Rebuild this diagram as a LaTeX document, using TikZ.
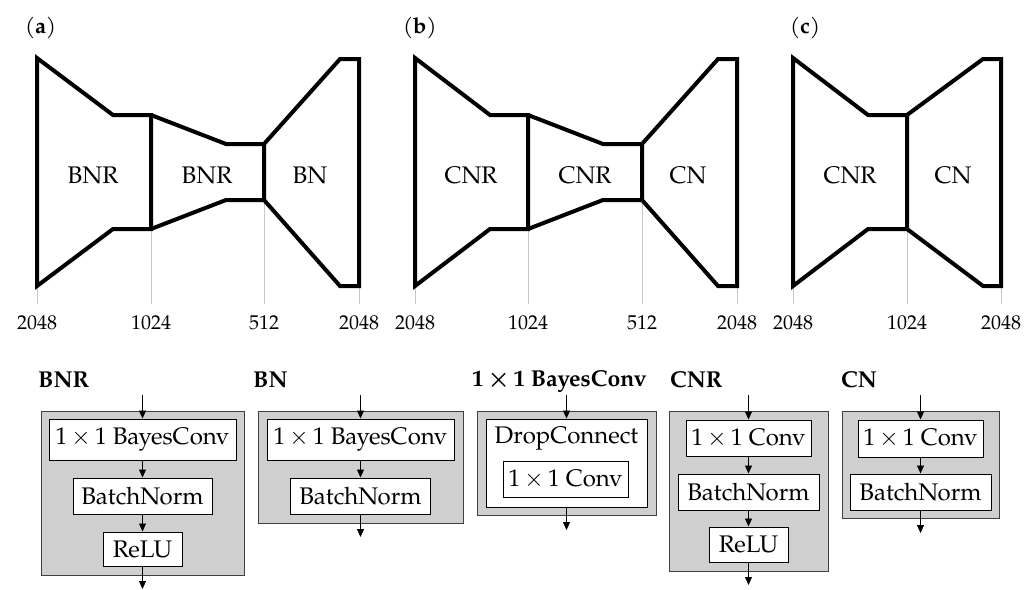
\documentclass[tikz,border=0pt]{standalone}
\usepackage{fontspec}
\setmainfont{TeX Gyre Pagella}
\usetikzlibrary{arrows.meta}
\newcommand{\oxo}{1\,$\times$\,1}
\begin{document}
\begin{tikzpicture}[x=1pt,y=-1pt,
 blk/.style={line width=4pt},
 tick/.style={draw=black!22,line width=0.8pt},
 num/.style={font=\fontsize{20}{22}\selectfont, anchor=base, inner sep=0pt},
 lbl/.style={font=\fontsize{24}{27}\selectfont},
 plab/.style={font=\fontsize{22}{25}\selectfont, anchor=base west, inner sep=0pt},
 outerbox/.style={draw=black!75,fill=black!19,line width=1pt,inner sep=0pt},
 innerbox/.style={draw=black,fill=white,line width=1pt,inner sep=0pt,font=\fontsize{24}{27}\selectfont},
 txt/.style={inner sep=0pt,font=\fontsize{24}{27}\selectfont},
 head/.style={font=\bfseries\boldmath\fontsize{23}{26}\selectfont,anchor=base west,inner sep=0pt},
 arr/.style={-{Triangle[length=8pt,width=7pt]},line width=0.8pt},
]
\useasboundingbox (0,0) rectangle (1035,589);

% ---------- panel labels
\node[plab] (la) at (25,33) {(\textbf{a})};
\node[plab] (lb) at (403,33) {(\textbf{b})};
\node[plab] (lc) at (790,33) {(\textbf{c})};

% ---------- panel (a)
\coordinate (a0) at (37,286);
\coordinate (a1) at (151,229);
\coordinate (a2) at (264,200);
\coordinate (a3) at (359,286);
\node[num] (na0) at (37,329) {2048};
\node[num] (na1) at (151,329) {1024};
\node[num] (na2) at (264,329) {512};
\node[num] (na3) at (359,329) {2048};
\draw[tick] (a0) -- (37,304);
\draw[tick] (a1) -- (151,304);
\draw[tick] (a2) -- (264,304);
\draw[tick] (a3) -- (359,304);
\draw[blk] (37,58) -- (113,115) -- (151,115) -- (a1) -- (113,229) -- (a0) -- cycle;
\draw[blk] (151,115) -- (226,144) -- (264,144) -- (a2) -- (226,200) -- (a1);
\draw[blk] (264,144) -- (340,59) -- (359,59) -- (a3) -- (340,286) -- (a2);
\node[lbl] (ta1) at (93,175) {BNR};
\node[lbl] (ta2) at (207,175) {BNR};
\node[lbl] (ta3) at (310,175) {BN};

% ---------- panel (b)
\coordinate (b0) at (415,286);
\coordinate (b1) at (528,229);
\coordinate (b2) at (642,200);
\coordinate (b3) at (737,286);
\node[num] (nb0) at (415,329) {2048};
\node[num] (nb1) at (528,329) {1024};
\node[num] (nb2) at (642,329) {512};
\node[num] (nb3) at (737,329) {2048};
\draw[tick] (b0) -- (415,304);
\draw[tick] (b1) -- (528,304);
\draw[tick] (b2) -- (642,304);
\draw[tick] (b3) -- (737,304);
\draw[blk] (415,58) -- (490,115) -- (528,115) -- (b1) -- (490,229) -- (b0) -- cycle;
\draw[blk] (528,115) -- (603,144) -- (642,144) -- (b2) -- (603,200) -- (b1);
\draw[blk] (642,144) -- (718,59) -- (737,59) -- (b3) -- (718,286) -- (b2);
\node[lbl] (tb1) at (471,175) {CNR};
\node[lbl] (tb2) at (585,175) {CNR};
\node[lbl] (tb3) at (688,175) {CN};

% ---------- panel (c)
\coordinate (c0) at (793,286);
\coordinate (c1) at (907,229);
\coordinate (c2) at (1001,286);
\node[num] (nc0) at (793,329) {2048};
\node[num] (nc1) at (907,329) {1024};
\node[num] (nc2) at (1001,329) {2048};
\draw[tick] (c0) -- (793,304);
\draw[tick] (c1) -- (907,304);
\draw[tick] (c2) -- (1001,304);
\draw[blk] (793,58) -- (868,115) -- (907,115) -- (c1) -- (868,229) -- (c0) -- cycle;
\draw[blk] (907,115) -- (983,59) -- (1001,59) -- (c2) -- (983,286) -- (c1);
\node[lbl] (tc1) at (850,175) {CNR};
\node[lbl] (tc2) at (953,175) {CN};

% ---------- BNR block
\node[head] (hbnr) at (38,387) {BNR};
\node[outerbox, minimum width=203pt, minimum height=164pt] (obnr) at (142.5,493) {};
\node[innerbox, minimum width=187pt, minimum height=41pt] (bnr1) at (142.5,439.5) {\oxo{} BayesConv};
\node[innerbox, minimum width=139pt, minimum height=36pt] (bnr2) at (142.5,496) {BatchNorm};
\node[innerbox, minimum width=79pt, minimum height=34pt] (bnr3) at (142.5,549) {ReLU};
\coordinate (bnrin) at (142.5,395);
\coordinate (bnrout) at (142.5,589);
\draw[arr] (bnrin) -- (bnr1.north);
\draw[arr] (bnr1.south) -- (bnr2.north);
\draw[arr] (bnr2.south) -- (bnr3.north);
\draw[arr] (bnr3.south) -- (bnrout);

% ---------- BN block
\node[head] (hbn) at (253,387) {BN};
\node[outerbox, minimum width=205pt, minimum height=112pt] (obn) at (360.5,467) {};
\node[innerbox, minimum width=187pt, minimum height=41pt] (bn1) at (360.5,439.5) {\oxo{} BayesConv};
\node[innerbox, minimum width=140pt, minimum height=36pt] (bn2) at (360.5,496) {BatchNorm};
\coordinate (bnin) at (360.5,395);
\coordinate (bnout) at (360.5,537);
\draw[arr] (bnin) -- (bn1.north);
\draw[arr] (bn1.south) -- (bn2.north);
\draw[arr] (bn2.south) -- (bnout);

% ---------- 1x1 BayesConv block
\node[head] (hbc) at (472,386) {\oxo{} BayesConv};
\node[outerbox, minimum width=179pt, minimum height=104pt] (obc) at (566.5,463) {};
\node[innerbox, minimum width=161pt, minimum height=88pt] (dc) at (566.5,463) {};
\node[txt] (dct) at (566.5,438) {DropConnect};
\node[innerbox, minimum width=125pt, minimum height=36pt] (bcc) at (565.5,479) {\oxo{} Conv};
\coordinate (bcin) at (566.5,395);
\coordinate (bcout) at (566.5,530);
\draw[arr] (bcin) -- (dc.north);
\draw[arr] (dc.south) -- (bcout);

% ---------- CNR block
\node[head] (hcnr) at (670,387) {CNR};
\node[outerbox, minimum width=159pt, minimum height=160pt] (ocnr) at (748.5,491) {};
\node[innerbox, minimum width=125pt, minimum height=36pt] (cnr1) at (748.5,438) {\oxo{} Conv};
\node[innerbox, minimum width=141pt, minimum height=36pt] (cnr2) at (748.5,492) {BatchNorm};
\node[innerbox, minimum width=79pt, minimum height=35pt] (cnr3) at (748.5,544.5) {ReLU};
\coordinate (cnrin) at (748.5,395);
\coordinate (cnrout) at (748.5,585);
\draw[arr] (cnrin) -- (cnr1.north);
\draw[arr] (cnr1.south) -- (cnr2.north);
\draw[arr] (cnr2.south) -- (cnr3.north);
\draw[arr] (cnr3.south) -- (cnrout);

% ---------- CN block
\node[head] (hcn) at (841,387) {CN};
\node[outerbox, minimum width=157pt, minimum height=107pt] (ocn) at (920.5,464.5) {};
\node[innerbox, minimum width=125pt, minimum height=37pt] (cn1) at (920.5,438.5) {\oxo{} Conv};
\node[innerbox, minimum width=141pt, minimum height=36pt] (cn2) at (920.5,492) {BatchNorm};
\coordinate (cnin) at (920.5,395);
\coordinate (cnout) at (920.5,533);
\draw[arr] (cnin) -- (cn1.north);
\draw[arr] (cn1.south) -- (cn2.north);
\draw[arr] (cn2.south) -- (cnout);
\end{tikzpicture}
\end{document}
